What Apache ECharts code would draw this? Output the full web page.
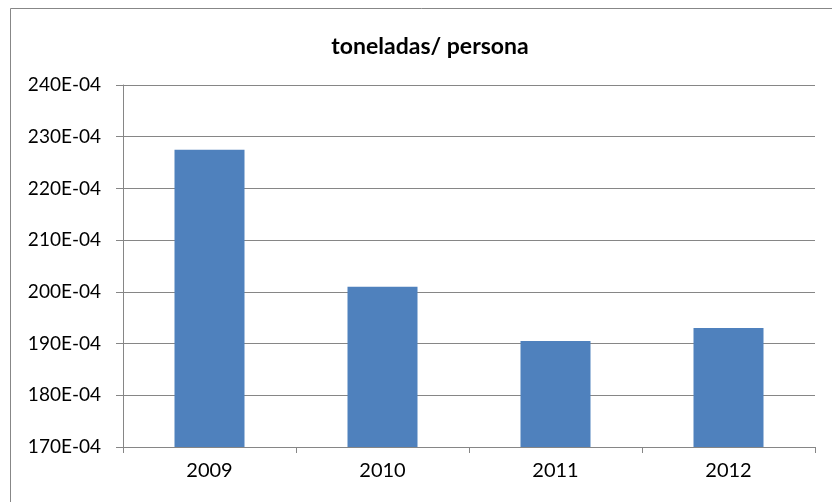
<!DOCTYPE html>
<html>
<head>
<meta charset="utf-8">
<script src="https://cdn.jsdelivr.net/npm/echarts@6/dist/echarts.min.js"></script>
<style>html,body{margin:0;padding:0;background:#fff}#c{width:832px;height:502px}</style>
</head>
<body>
<div id="c"></div>
<script>
const title = 'toneladas/ persona';
const categories = ['2009', '2010', '2011', '2012'];
// values in units of 1E-04 tonnes per person
const values = [227.5, 201.0, 190.5, 193.0];
const yMin = 170, yMax = 240, yStep = 10;

const chart = echarts.init(document.getElementById('c'));
const font = 'Lato, "Open Sans", sans-serif';
chart.setOption({
  animation: false,
  title: {
    text: title, left: 425, top: 30, textAlign: 'center',
    textStyle: { fontFamily: font, fontSize: 23, fontWeight: 'bold', color: '#000' }
  },
  graphic: [{
    type: 'rect', shape: { x: 10.5, y: 8.5, width: 840, height: 520 },
    style: { fill: 'none', stroke: '#878787', lineWidth: 1 }, silent: true
  }],
  grid: { left: 123, right: 17, top: 85, bottom: 55 },
  xAxis: {
    type: 'category', data: categories,
    axisLine: { lineStyle: { color: '#868686', width: 1 } },
    axisTick: { show: true, length: 6, alignWithLabel: false, lineStyle: { color: '#868686' } },
    axisLabel: { fontFamily: font, fontSize: 20, color: '#000', margin: 14 }
  },
  yAxis: {
    type: 'value', min: yMin, max: yMax, interval: yStep,
    axisLine: { show: true, lineStyle: { color: '#868686', width: 1 } },
    axisTick: { show: true, length: 7, lineStyle: { color: '#868686' } },
    splitLine: { lineStyle: { color: '#868686', width: 1 } },
    axisLabel: { fontFamily: font, fontSize: 19, color: '#000', margin: 22,
      formatter: v => v + 'E-04' }
  },
  series: [{
    type: 'bar', data: values, barWidth: 70,
    itemStyle: { color: '#4F81BD' }
  }]
});
</script>
</body>
</html>
